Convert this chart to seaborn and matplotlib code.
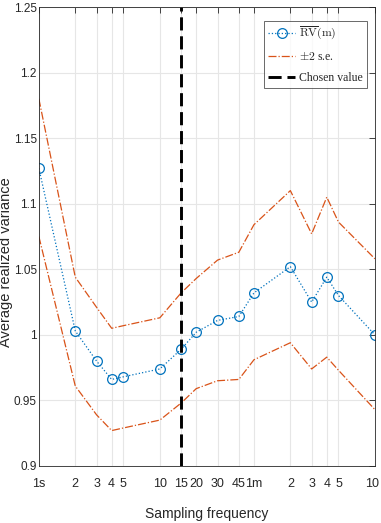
import matplotlib
matplotlib.use("Agg")
import matplotlib.pyplot as plt
import matplotlib.transforms as mtransforms
import pandas as pd
import seaborn as sns

# sampling frequency in seconds
freq_sec = [1, 2, 3, 4, 5, 10, 15, 20, 30, 45, 60, 120, 180, 240, 300, 600]
freq_labels = ["1s", "2", "3", "4", "5", "10", "15", "20", "30", "45",
               "1m", "2", "3", "4", "5", "10"]
rv_mean = [1.127, 1.003, 0.980, 0.966, 0.968, 0.974, 0.989, 1.002, 1.011,
           1.014, 1.032, 1.052, 1.025, 1.044, 1.030, 1.000]
rv_upper = [1.180, 1.044, 1.021, 1.005, 1.007, 1.013, 1.032, 1.043, 1.057,
            1.063, 1.084, 1.110, 1.077, 1.105, 1.086, 1.058]
rv_lower = [1.075, 0.961, 0.939, 0.927, 0.929, 0.935, 0.948, 0.959, 0.965,
            0.966, 0.981, 0.994, 0.974, 0.983, 0.973, 0.943]
chosen = 15
yticks = [0.9, 0.95, 1.0, 1.05, 1.1, 1.15, 1.2, 1.25]
ytick_labels = ["0.9", "0.95", "1", "1.05", "1.1", "1.15", "1.2", "1.25"]

df = pd.DataFrame({"freq": freq_sec, "mean": rv_mean,
                   "upper": rv_upper, "lower": rv_lower})

sns.set_style("white")
plt.rcParams['font.family'] = ['Liberation Sans', 'DejaVu Sans']
plt.rcParams['mathtext.fontset'] = 'cm'

blue = '#0072BD'
orange = '#D95319'
dark = '#262626'

fig = plt.figure(figsize=(3.81, 5.23), dpi=100)
ax = fig.add_axes([0.102, 0.109, 0.882, 0.8776])

sns.lineplot(data=df, x="freq", y="mean", ax=ax, color=blue, linestyle=':',
             linewidth=0.9, marker='o', markersize=7, markerfacecolor='none',
             markeredgecolor=blue, markeredgewidth=0.9,
             label=r"$\overline{\rm RV}\rm (m)$")
sns.lineplot(data=df, x="freq", y="upper", ax=ax, color=orange, linestyle='-.',
             linewidth=0.9, label=r"$\pm 2$ s.e.")
sns.lineplot(data=df, x="freq", y="lower", ax=ax, color=orange, linestyle='-.',
             linewidth=0.9, label='_nolegend_')
ax.axvline(chosen, color='black', linestyle=(0, (4.5, 2)), linewidth=2.1,
           label="Chosen value")

ax.set_xscale('log')
ax.set_xlim(1, 600)
ax.set_ylim(0.9, 1.25)
ax.set_xticks(freq_sec)
ax.set_xticklabels(freq_labels)
ax.xaxis.set_minor_locator(matplotlib.ticker.NullLocator())
ax.set_yticks(yticks)
ax.set_yticklabels(ytick_labels)
ax.grid(True, color='#e6e6e6', linewidth=0.8)
ax.set_axisbelow(True)
ax.tick_params(direction='in', top=True, right=True, length=4, width=0.6,
               color=dark, labelcolor=dark)
ax.tick_params(axis='x', pad=9, labelsize=9)
ax.tick_params(axis='y', pad=1.5, labelsize=8.5)
# keep the last "10" inside the figure
last = ax.get_xticklabels()[-1]
last.set_transform(last.get_transform() +
                   mtransforms.ScaledTranslation(-2 / 72, 0, fig.dpi_scale_trans))
for s in ax.spines.values():
    s.set_color(dark)
    s.set_linewidth(0.6)

ax.set_xlabel("Sampling frequency", fontsize=10, color=dark)
ax.xaxis.set_label_coords(0.5, -0.089)
ax.set_ylabel("Average realized variance", fontsize=10.5, color=dark)
ax.yaxis.set_label_coords(-0.076, 0.444)

leg = ax.legend(loc='upper right', bbox_to_anchor=(0.976, 0.9695),
                prop={'family': ['Liberation Serif', 'DejaVu Serif'], 'size': 8.5},
                frameon=True, fancybox=False, edgecolor=dark,
                handlelength=2.3, handletextpad=0.3, borderpad=0.35,
                labelspacing=0.75, borderaxespad=0)
leg.get_frame().set_linewidth(0.6)

fig.savefig("out.png", dpi=100)
